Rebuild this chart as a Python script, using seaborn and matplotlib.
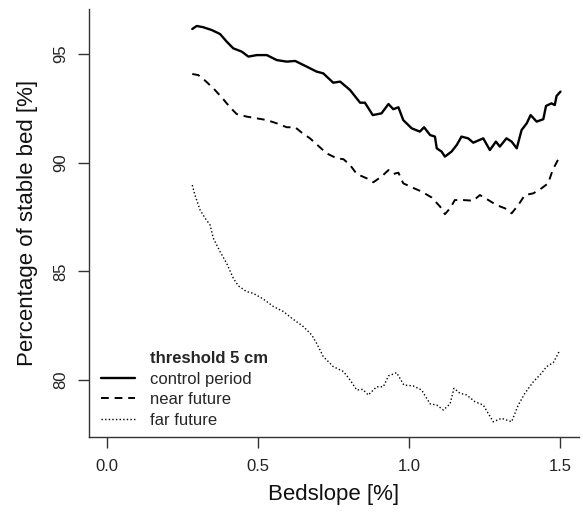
import matplotlib
matplotlib.use("Agg")
import matplotlib.pyplot as plt
from matplotlib.lines import Line2D
import numpy as np
import pandas as pd
import seaborn as sns

# Percentage of stable bed versus bedslope, threshold 5 cm
control_x = [0.282, 0.297, 0.319, 0.347, 0.374, 0.396, 0.418, 0.446, 0.468, 0.496,
             0.529, 0.562, 0.595, 0.623, 0.661, 0.694, 0.716, 0.749, 0.772, 0.805,
             0.838, 0.854, 0.880, 0.909, 0.932, 0.948, 0.965, 0.981, 1.009, 1.036,
             1.050, 1.070, 1.086, 1.092, 1.108, 1.119, 1.141, 1.158, 1.174, 1.196,
             1.213, 1.246, 1.268, 1.288, 1.301, 1.323, 1.340, 1.357, 1.373, 1.390,
             1.403, 1.423, 1.445, 1.454, 1.472, 1.483, 1.489, 1.502]
control_y = [96.15, 96.29, 96.23, 96.10, 95.92, 95.57, 95.26, 95.11, 94.88, 94.95,
             94.95, 94.72, 94.65, 94.68, 94.42, 94.19, 94.11, 93.68, 93.73, 93.34,
             92.76, 92.76, 92.19, 92.27, 92.70, 92.46, 92.55, 91.96, 91.58, 91.43,
             91.63, 91.27, 91.20, 90.66, 90.51, 90.28, 90.51, 90.81, 91.20, 91.12,
             90.92, 91.12, 90.58, 90.97, 90.74, 91.12, 90.97, 90.66, 91.50, 91.81,
             92.19, 91.89, 92.00, 92.61, 92.73, 92.65, 93.07, 93.27]

near_x = [0.282, 0.302, 0.325, 0.352, 0.380, 0.407, 0.429, 0.462, 0.496, 0.529,
          0.562, 0.595, 0.623, 0.645, 0.672, 0.700, 0.727, 0.761, 0.783, 0.805,
          0.827, 0.860, 0.882, 0.909, 0.932, 0.948, 0.965, 0.981, 1.009, 1.042,
          1.075, 1.103, 1.119, 1.136, 1.152, 1.180, 1.213, 1.235, 1.263, 1.290,
          1.318, 1.340, 1.362, 1.384, 1.412, 1.439, 1.461, 1.476, 1.498]
near_y = [94.08, 94.03, 93.77, 93.42, 93.00, 92.55, 92.24, 92.12, 92.04, 91.96,
          91.81, 91.63, 91.63, 91.38, 91.12, 90.77, 90.43, 90.20, 90.16, 89.89,
          89.48, 89.28, 89.10, 89.36, 89.66, 89.48, 89.54, 89.05, 88.87, 88.67,
          88.40, 87.98, 87.63, 87.90, 88.28, 88.28, 88.25, 88.51, 88.28, 88.05,
          87.90, 87.67, 88.05, 88.51, 88.59, 88.82, 89.05, 89.66, 90.25]

far_x = [0.282, 0.291, 0.308, 0.325, 0.341, 0.352, 0.374, 0.396, 0.418, 0.435,
         0.462, 0.484, 0.518, 0.551, 0.584, 0.612, 0.650, 0.678, 0.694, 0.716,
         0.749, 0.783, 0.805, 0.827, 0.847, 0.865, 0.893, 0.915, 0.932, 0.959,
         0.970, 0.983, 1.014, 1.042, 1.070, 1.092, 1.114, 1.136, 1.149, 1.169,
         1.191, 1.219, 1.246, 1.279, 1.307, 1.323, 1.340, 1.362, 1.384, 1.412,
         1.439, 1.456, 1.478, 1.489, 1.500]
far_y = [88.97, 88.51, 87.82, 87.44, 87.13, 86.52, 85.91, 85.37, 84.68, 84.33,
         84.07, 83.99, 83.72, 83.38, 83.15, 82.84, 82.46, 82.07, 81.69, 81.08,
         80.62, 80.39, 80.00, 79.54, 79.57, 79.31, 79.69, 79.69, 80.19, 80.34,
         80.08, 79.77, 79.73, 79.54, 78.90, 78.85, 78.62, 78.90, 79.62, 79.39,
         79.31, 79.00, 78.85, 78.08, 78.24, 78.16, 78.08, 78.85, 79.39, 79.92,
         80.31, 80.62, 80.80, 81.08, 81.38]

series_names = ["control period", "near future", "far future"]
legend_title = "threshold 5 cm"
x_ticks = [0.0, 0.5, 1.0, 1.5]
y_ticks = [80, 85, 90, 95]

df = pd.concat([
    pd.DataFrame({"slope": control_x, "stable": control_y, "period": series_names[0]}),
    pd.DataFrame({"slope": near_x, "stable": near_y, "period": series_names[1]}),
    pd.DataFrame({"slope": far_x, "stable": far_y, "period": series_names[2]}),
], ignore_index=True)

sns.set_style("ticks")
plt.rcParams["font.family"] = ["Liberation Sans", "DejaVu Sans"]

fig = plt.figure(figsize=(5.83, 5.15), dpi=100)
ax = fig.add_axes([0.1527, 0.1515, 0.8403, 0.831])

styles = {
    series_names[0]: dict(lw=1.7, dashes=None),
    series_names[1]: dict(lw=1.4, dashes=(4.0, 3.0)),
    series_names[2]: dict(lw=1.0, dashes=(1.0, 1.6)),
}
for name in series_names:
    sub = df[df["period"] == name]
    sns.lineplot(data=sub, x="slope", y="stable", ax=ax, color="black",
                 estimator=None, sort=True, legend=False,
                 linewidth=styles[name]["lw"])
    ln = ax.lines[-1]
    if styles[name]["dashes"] is not None:
        ln.set_dashes(styles[name]["dashes"])

ax.set_xlim(-0.06, 1.563)
ax.set_ylim(77.38, 97.07)
ax.set_xticks(x_ticks)
ax.set_xticklabels([f"{t:.1f}" for t in x_ticks])
ax.set_yticks(y_ticks)
ax.set_yticklabels([str(t) for t in y_ticks])

for s in ["top", "right"]:
    ax.spines[s].set_visible(False)
for s in ["left", "bottom"]:
    ax.spines[s].set_color("#333333")
    ax.spines[s].set_linewidth(1.0)

ax.tick_params(axis="both", direction="out", length=8, width=1.0,
               color="#333333", labelsize=12, labelcolor="#222222")
ax.tick_params(axis="x", pad=8)
ax.tick_params(axis="y", pad=7)
for lab in ax.get_yticklabels():
    lab.set_rotation(90)
    lab.set_va("center")
    lab.set_ha("right")

ax.set_xlabel("Bedslope [%]", fontsize=16, labelpad=7, color="#111111")
ax.set_ylabel("Percentage of stable bed [%]", fontsize=16, labelpad=11, color="#111111")

handles = [Line2D([], [], color="none")]
for name in series_names:
    h = Line2D([], [], color="black", lw=styles[name]["lw"])
    if styles[name]["dashes"] is not None:
        h.set_dashes(styles[name]["dashes"])
    handles.append(h)
leg = ax.legend(handles, [legend_title] + series_names, loc="lower left",
                bbox_to_anchor=(0.025, 0.022), frameon=False, fontsize=12,
                handlelength=2.0, handletextpad=0.9, labelspacing=0.33,
                borderpad=0, borderaxespad=0)
leg.get_texts()[0].set_fontweight("bold")

fig.savefig("out.png", dpi=100)
